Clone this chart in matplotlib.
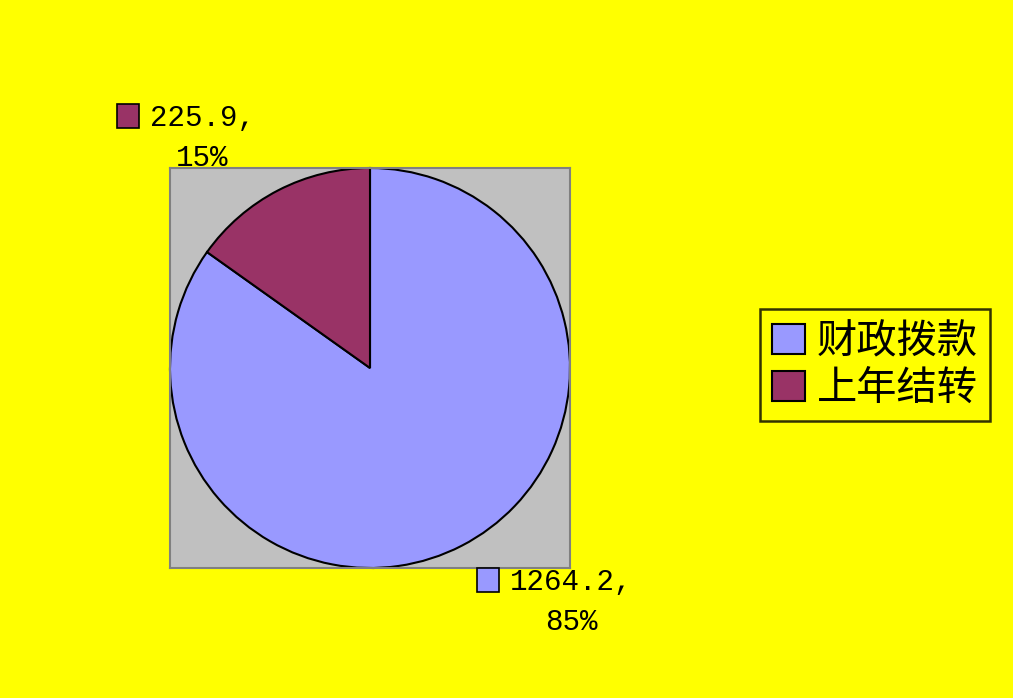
import matplotlib
matplotlib.use('Agg')
import matplotlib.pyplot as plt
from matplotlib.patches import Patch

plt.rcParams['font.family'] = ['Noto Sans CJK SC', 'DejaVu Sans']

names = ['财政拨款', '上年结转']
values = [1264.2, 225.9]
colors = ['#9999FF', '#993366']

fig = plt.figure(figsize=(10.13, 6.98), dpi=100, facecolor='#FFFF00')
ax = fig.add_axes([170/1013, 130/698, 400/1013, 400/698])

ax.pie(values, colors=colors, startangle=90, counterclock=False, radius=1,
       frame=True, wedgeprops=dict(edgecolor='black', linewidth=1.5))
ax.set_facecolor('#C0C0C0')
for s in ax.spines.values():
    s.set_color('#808080')
    s.set_linewidth(1.5)
ax.set_xlim(-1, 1)
ax.set_ylim(-1, 1)
ax.set_aspect('equal')
ax.set_xticks([])
ax.set_yticks([])

total = sum(values)
label_pos = [(510/1013, 602/698), (150/1013, 138/698)]
box_pos = [(477/1013, 580/698), (117/1013, 116/698)]
for v, c, (lx, ly), (bx, by) in zip(values, colors, label_pos, box_pos):
    pct = round(v / total * 100)
    fig.text(lx, 1 - ly, f'{v},\n{pct}%', fontsize=21, family='Liberation Mono',
             ha='left', va='center', multialignment='center', linespacing=1.55)
    fig.patches.append(plt.Rectangle((bx, 1 - by - 12/698), 22/1013, 24/698,
                                     transform=fig.transFigure, facecolor=c,
                                     edgecolor='black', linewidth=1.2))

handles = [Patch(facecolor=c, edgecolor='black', linewidth=1.5) for c in colors]
leg = fig.legend(handles, names, loc='center', bbox_to_anchor=(875/1013, 1 - 365/698),
                 fontsize=29, frameon=True, fancybox=False, handlelength=0.8,
                 handleheight=0.8, handletextpad=0.3, borderpad=0.3, labelspacing=0.15,
                 facecolor='#FFFF00', edgecolor='black')
leg.get_frame().set_linewidth(1.8)

fig.savefig('out.png', dpi=100, facecolor=fig.get_facecolor())
